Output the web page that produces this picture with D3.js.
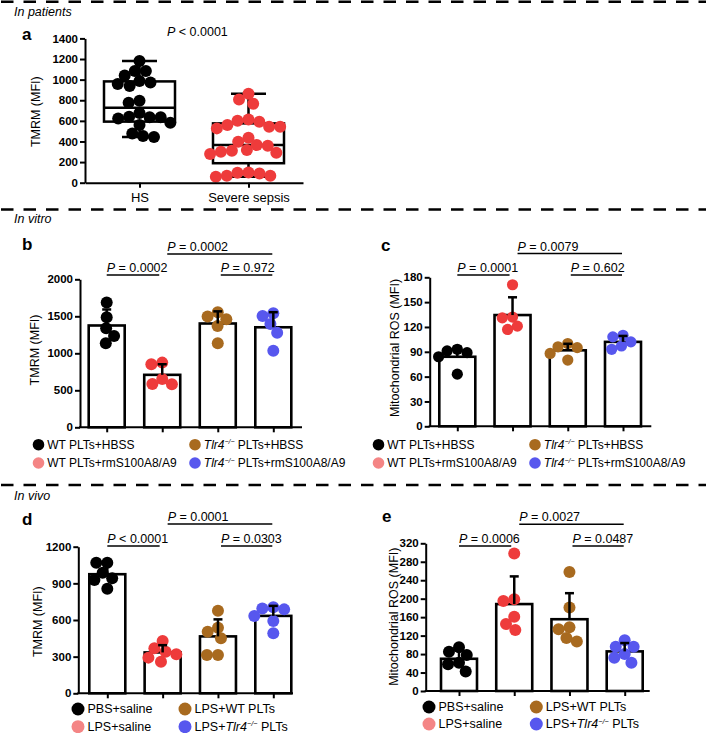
<!DOCTYPE html>
<html><head><meta charset="utf-8">
<script src="https://cdn.jsdelivr.net/npm/d3@7"></script>
<style>
html,body{margin:0;padding:0;background:#fff;}
svg{display:block;font-family:"Liberation Sans",Arial,Helvetica,sans-serif;}
</style></head><body>
<svg id="fig" width="706" height="733"></svg>
<script>
// ---------------- data ----------------
const aCategories = ["HS", "Severe sepsis"];
const aHS = [1180,1083,1083,1040,986,973,957,938,795,776,676,640,634,634,624,582,559,478,452,443];
const aSepsis = [863,808,766,614,601,592,559,543,543,527,436,398,365,359,317,310,301,291,278,100,97,90,68,68,58];
const aTicks = [0,200,400,600,800,1000,1200,1400];
const aP = "< 0.0001";

const vitroGroups = ["WT PLTs+HBSS","WT PLTs+rmS100A8/A9","Tlr4 PLTs+HBSS","Tlr4 PLTs+rmS100A8/A9"];
const bValues = [[1685,1487,1338,1234,1135],[874,851,653,586,581],[1554,1496,1460,1369,1135],[1541,1505,1397,1279,1036]];
const bTicks = [0,500,1000,1500,2000];
const bP = ["= 0.0002","= 0.972","= 0.0002"];   // left, right, top
const cValues = [[93,91,89,84,63],[171,132,131,121,117],[100,96,95,88,80],[110,108,102,97,93]];
const cTicks = [0,30,60,90,120,150,180];
const cP = ["= 0.0001","= 0.602","= 0.0079"];

const vivoGroups = ["PBS+saline","LPS+saline","LPS+WT PLTs","LPS+Tlr4 PLTs"];
const dValues = [[1069,1069,987,941,927,856],[428,368,341,319,292,259],[676,537,504,450,314,314],[704,695,687,633,592,491]];
const dTicks = [0,300,600,900,1200];
const dP = ["< 0.0001","= 0.0303","= 0.0001"];
const eValues = [[95,85,78,61,58,42],[298,199,195,161,145,132],[258,181,138,134,115,107],[110,96,96,80,72,61]];
const eTicks = [0,40,80,120,160,200,240,280,320];
const eP = ["= 0.0006","= 0.0487","= 0.0027"];

// ---------------- styles ----------------
const pointColors = ["#000000","#ee3b3b","#a86a1f","#5757ee"];
const legendColors = ["#000000","#f48585","#a86a1f","#5757ee"];
const svg = d3.select("#fig");
const fmt = d3.format("d");

// separators & section titles
[1.7, 209.5, 485].forEach(yy => {
  svg.append("line").attr("x1",0).attr("x2",706).attr("y1",yy).attr("y2",yy)
    .attr("stroke","#000").attr("stroke-width",2.6).attr("stroke-dasharray","12.5,10")
    .attr("stroke-dashoffset",-1);
});
[["In patients",16],["In vitro",222.5],["In vivo",499.5]].forEach(([t,yy]) => {
  svg.append("text").attr("x",14).attr("y",yy).attr("font-size",12.5)
    .attr("font-style","italic").text(t);
});

function letter(t, x, y) {
  svg.append("text").attr("x",x).attr("y",y).attr("font-size",17).attr("font-weight","bold").text(t);
}

function styleAxis(ax) {
  ax.attr("font-family",null).attr("font-size",null);
  ax.selectAll(".domain").attr("stroke","#000").attr("stroke-width",2);
  ax.selectAll(".tick line").attr("stroke","#000").attr("stroke-width",2);
  ax.selectAll(".tick text").attr("fill","#000").attr("font-weight","bold").attr("font-size",11.5);
}

function swarm(values, y, r) {
  const placed = [];
  const d = 2 * r * 0.92;
  return values.map(v => {
    const yy = y(v);
    const cands = [0];
    placed.forEach(p => {
      const dy = yy - p.y;
      if (Math.abs(dy) < d) {
        const dx = Math.sqrt(d * d - dy * dy);
        cands.push(p.x + dx, p.x - dx);
      }
    });
    cands.sort((a, b) => Math.abs(a) - Math.abs(b) || a - b);
    const x = cands.find(c => placed.every(p => (c - p.x) ** 2 + (yy - p.y) ** 2 >= d * d - 1e-6));
    placed.push({x, y: yy});
    return {v, dx: x, y: yy};
  });
}

function pText(g, x, y, s, size) {
  const t = g.append("text").attr("x",x).attr("y",y).attr("font-size",size);
  t.append("tspan").attr("font-style","italic").text("P");
  t.append("tspan").text(" " + s);
}

function richLabel(t, label, size) {
  const parts = label.split("Tlr4");
  t.append("tspan").text(parts[0]);
  if (parts.length > 1) {
    t.append("tspan").attr("font-style","italic").text("Tlr4");
    t.append("tspan").attr("font-style","italic").attr("font-size",size*0.58).attr("dy",-size*0.38).text("\u2212/\u2212");
    t.append("tspan").attr("dy",size*0.38).text(parts[1]);
  }
}

// ---------------- panel a ----------------
(function(){
  const g = svg.append("g");
  const y = d3.scaleLinear().domain([0,1400]).range([182.7,38.4]);
  const x = d3.scalePoint().domain(aCategories).range([85,303]).padding(0.5);
  const groups = [aHS, aSepsis];
  const colors = [pointColors[0], pointColors[1]];
  function q(arr, p) {
    const s = arr.slice().sort(d3.ascending), n = s.length;
    const pos = p * (n + 1);
    if (pos <= 1) return s[0];
    if (pos >= n) return s[n-1];
    const lo = Math.floor(pos), f = pos - lo;
    return s[lo-1] + f * (s[lo] - s[lo-1]);
  }
  const bw = 71, cap = 35;
  groups.forEach((arr, i) => {
    const cx = x(aCategories[i]);
    const q1 = q(arr,0.25), med = q(arr,0.5), q3 = q(arr,0.75);
    const mn = d3.min(arr), mx = d3.max(arr);
    const L = (x1,y1,x2,y2) => g.append("line").attr("x1",x1).attr("y1",y1).attr("x2",x2).attr("y2",y2)
      .attr("stroke","#000").attr("stroke-width",2.5);
    g.append("rect").attr("x",cx-bw/2).attr("y",y(q3)).attr("width",bw).attr("height",y(q1)-y(q3))
      .attr("fill","none").attr("stroke","#000").attr("stroke-width",2.5);
    L(cx-bw/2,y(med),cx+bw/2,y(med));
    L(cx,y(q3),cx,y(mx)); L(cx,y(q1),cx,y(mn));
    L(cx-cap/2,y(mx),cx+cap/2,y(mx)); L(cx-cap/2,y(mn),cx+cap/2,y(mn));
    swarm(arr, y, 6).forEach(p => {
      g.append("circle").attr("cx",cx+p.dx).attr("cy",p.y).attr("r",6).attr("fill",colors[i]);
    });
  });
  const ya = g.append("g").attr("transform","translate(85,0)")
    .call(d3.axisLeft(y).tickValues(aTicks).tickFormat(fmt).tickSize(5).tickSizeOuter(0).tickPadding(2));
  styleAxis(ya);
  const xa = g.append("g").attr("transform","translate(0,182.7)")
    .call(d3.axisBottom(x).tickSize(5).tickSizeOuter(0).tickPadding(5));
  styleAxis(xa);
  xa.selectAll(".tick text").attr("font-weight","normal").attr("font-size",13);
  g.append("text").attr("transform","translate(36,111.7) rotate(-90)").attr("text-anchor","middle")
    .attr("dominant-baseline","central").attr("font-size",12.5).text("TMRM (MFI)");
  pText(g, 167, 36, aP, 12.5);
  letter("a", 22, 40);
})();

// ---------------- bar panels ----------------
function barPanel(cfg, values, ticks, pv, groups, yTitle) {
  const g = svg.append("g");
  const y = d3.scaleLinear().domain([0, ticks[ticks.length-1]]).range([cfg.y0, cfg.yTop]);
  const x = d3.scalePoint().domain(groups).range([cfg.c1, cfg.c4]);
  const bw = 36, cap = 9, r = cfg.r;
  const stats = values.map(v => ({mean: d3.mean(v), sd: d3.deviation(v)}));
  // bars
  groups.forEach((gr, i) => {
    const cx = x(gr);
    g.append("rect").attr("x",cx-bw/2).attr("y",y(stats[i].mean)).attr("width",bw)
      .attr("height",cfg.y0-y(stats[i].mean)).attr("fill","#fff").attr("stroke","#000").attr("stroke-width",2.6);
  });
  // points
  groups.forEach((gr, i) => {
    const cx = x(gr);
    swarm(values[i], y, r).forEach(p => {
      g.append("circle").attr("cx",cx+p.dx).attr("cy",p.y).attr("r",r).attr("fill",pointColors[i]);
    });
  });
  // error bars
  groups.forEach((gr, i) => {
    const cx = x(gr), m = stats[i].mean, s = stats[i].sd;
    g.append("line").attr("x1",cx).attr("x2",cx).attr("y1",y(m)).attr("y2",y(m+s))
      .attr("stroke","#000").attr("stroke-width",2.5);
    g.append("line").attr("x1",cx-cap/2).attr("x2",cx+cap/2).attr("y1",y(m+s)).attr("y2",y(m+s))
      .attr("stroke","#000").attr("stroke-width",2.5);
  });
  // axes
  const ya = g.append("g").attr("transform",`translate(${cfg.ax0},0)`)
    .call(d3.axisLeft(y).tickValues(ticks).tickFormat(fmt).tickSize(5).tickSizeOuter(0).tickPadding(2));
  styleAxis(ya);
  const xa = g.append("g").attr("transform",`translate(0,${cfg.y0})`)
    .call(d3.axisBottom(x).tickSize(5).tickFormat(""));
  xa.select(".domain").remove();
  styleAxis(xa);
  g.append("line").attr("x1",cfg.ax0-1).attr("x2",cfg.ax1).attr("y1",cfg.y0).attr("y2",cfg.y0)
    .attr("stroke","#000").attr("stroke-width",2);
  g.append("text").attr("transform",`translate(${cfg.titleX},${cfg.titleY}) rotate(-90)`)
    .attr("text-anchor","middle").attr("dominant-baseline","central").attr("font-size",12.5).text(yTitle);
  // brackets
  const c = groups.map(gr => x(gr));
  const br = [
    [c[0], c[1]-3, cfg.lowY, pv[0]],
    [c[2]+3, c[3]-1, cfg.lowY, pv[1]],
    [c[1]+5, c[3]-1, cfg.topY, pv[2]]
  ];
  br.forEach(([x1,x2,yy,s]) => {
    g.append("line").attr("x1",x1).attr("x2",x2).attr("y1",yy).attr("y2",yy)
      .attr("stroke","#000").attr("stroke-width",1.5);
    pText(g, x1, yy-3, s, 12.5);
  });
  // legend
  const lg = g.append("g");
  groups.forEach((gr, i) => {
    const col = i < 2 ? 0 : 1, row = i % 2;
    const lx = cfg.lx + col * cfg.lcol, ly = cfg.ly + row * cfg.lrow;
    lg.append("circle").attr("cx",lx).attr("cy",ly).attr("r",cfg.lr).attr("fill",legendColors[i]);
    const t = lg.append("text").attr("x",lx+cfg.lr+3).attr("y",ly+4.3).attr("font-size",cfg.lfs);
    richLabel(t, gr, cfg.lfs);
  });
  letter(cfg.letter, cfg.lX, cfg.lY);
}

barPanel({ax0:80, ax1:302, c1:106.7, c4:273.3, y0:427.3, yTop:279.3, r:6,
  titleX:35, titleY:350, lowY:275, topY:254,
  lx:38.5, ly:444.7, lcol:156.5, lrow:18.3, lr:5.8, lfs:12, letter:"b", lX:22, lY:250},
  bValues, bTicks, bP, vitroGroups, "TMRM (MFI)");

barPanel({ax0:429.7, ax1:651.3, c1:457.3, c4:623, y0:426.3, yTop:277.3, r:5.6,
  titleX:394.5, titleY:348, lowY:275, topY:253.5,
  lx:378.5, ly:444.7, lcol:156.5, lrow:18.3, lr:5.8, lfs:12, letter:"c", lX:381, lY:251},
  cValues, cTicks, cP, vitroGroups, "Mitochondrial ROS (MFI)");

barPanel({ax0:78.3, ax1:293, c1:107.3, c4:273.3, y0:693.3, yTop:546.7, r:6,
  titleX:38, titleY:621.7, lowY:546, topY:524,
  lx:78, ly:709, lcol:107, lrow:17.7, lr:6.5, lfs:12.5, letter:"d", lX:22, lY:525},
  dValues, dTicks, dP, vivoGroups, "TMRM (MFI)");

barPanel({ax0:425.7, ax1:649.7, c1:459, c4:624.7, y0:691, yTop:543.3, r:6,
  titleX:393.8, titleY:616.7, lowY:546, topY:524.3,
  lx:429, ly:707, lcol:107.3, lrow:17, lr:6.5, lfs:12.5, letter:"e", lX:382, lY:522},
  eValues, eTicks, eP, vivoGroups, "Mitochondrial ROS (MFI)");
</script>
</body></html>
